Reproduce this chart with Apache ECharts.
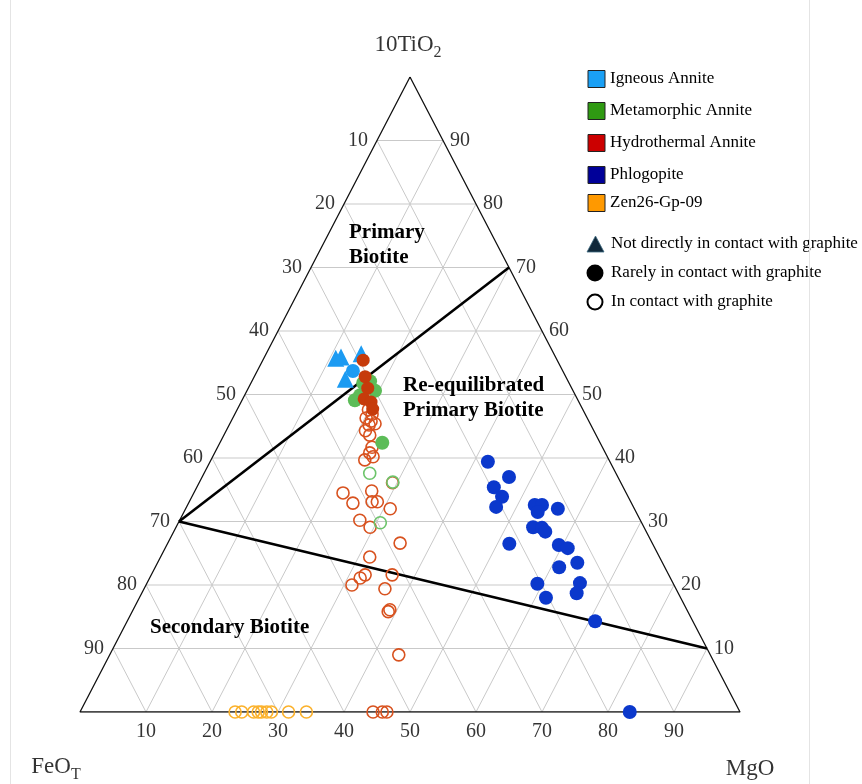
<!DOCTYPE html>
<html>
<head>
<meta charset="utf-8">
<script src="https://cdn.jsdelivr.net/npm/echarts@6/dist/echarts.min.js"></script>
<style>
  html, body { margin: 0; padding: 0; background: #fff; }
  #chart { width: 862px; height: 784px; }
</style>
</head>
<body>
<div id="chart"></div>
<script>
// Biotite compositions as [10TiO2, FeOT, MgO] (normalised to 100 on the diagram)
const tickValues = [10, 20, 30, 40, 50, 60, 70, 80, 90];

const igneousNotInContact = [[55.7, 33.4, 10.9], [55.9, 32.5, 11.6], [56.4, 29.2, 14.4], [52.4, 33.6, 14.0]];
const igneousRarely = [[53.7, 31.8, 14.5]];

const metamorphicRarely = [[51.8, 31.2, 17.0], [52.1, 30.0, 17.9], [50.6, 30.0, 19.4], [49.1, 33.8, 17.1],
  [49.9, 32.6, 17.5], [42.4, 33.0, 24.6]];
const metamorphicContact = [[37.6, 37.3, 25.1], [36.2, 34.5, 29.3], [29.8, 39.6, 30.6]];

const hydrothermalRarely = [[55.4, 29.4, 15.2], [52.8, 30.4, 16.8], [51.0, 30.9, 18.1], [49.3, 32.3, 18.4],
  [48.8, 31.5, 19.7], [47.7, 31.8, 20.5]];
const hydrothermalContact = [[47.6, 32.5, 19.9], [46.9, 32.3, 20.8], [46.3, 33.5, 20.2], [45.8, 33.0, 21.2],
  [45.2, 33.6, 21.2], [45.4, 32.6, 22.0], [44.3, 34.6, 21.1], [43.6, 34.3, 22.1], [41.7, 34.9, 23.4],
  [40.8, 35.7, 23.5], [39.7, 37.0, 23.3], [40.2, 35.5, 24.3], [36.1, 34.6, 29.3], [34.5, 42.9, 22.6],
  [32.9, 42.2, 24.9], [34.8, 38.4, 26.8], [33.1, 39.2, 27.7], [33.1, 38.4, 28.5], [32.0, 37.0, 31.0],
  [30.2, 42.5, 27.3], [29.1, 41.5, 29.4], [26.6, 38.2, 35.2], [24.4, 43.9, 31.7], [20.0, 48.8, 31.2],
  [21.1, 47.0, 31.9], [21.6, 46.0, 32.4], [21.6, 41.9, 36.5], [19.4, 44.1, 36.5], [15.8, 45.4, 38.8],
  [16.1, 45.0, 38.9], [9.0, 47.2, 43.8], [0, 55.6, 44.4], [0, 54.2, 45.8], [0, 53.5, 46.5]];

const phlogopiteRarely = [[39.4, 18.5, 42.1], [37.0, 16.5, 46.5], [35.4, 19.6, 45.0], [33.9, 19.1, 47.0],
  [32.3, 20.8, 46.9], [32.6, 14.8, 52.6], [32.6, 13.7, 53.7], [31.5, 14.9, 53.6], [32.0, 11.6, 56.4],
  [29.1, 16.8, 54.1], [29.0, 15.5, 55.5], [28.4, 15.3, 56.3], [26.5, 21.7, 51.8], [26.3, 14.3, 59.4],
  [25.8, 13.2, 61.0], [23.5, 12.9, 63.6], [22.8, 16.0, 61.2], [20.2, 20.6, 59.2], [20.3, 14.1, 65.6],
  [18.7, 15.4, 65.9], [18.0, 20.4, 61.6], [14.3, 14.8, 70.9], [0, 16.7, 83.3]];

const zenContact = [[0, 76.5, 23.5], [0, 75.5, 24.5], [0, 73.7, 26.3], [0, 73.0, 27.0], [0, 72.5, 27.5],
  [0, 71.7, 28.3], [0, 71.0, 29.0], [0, 68.4, 31.6], [0, 65.7, 34.3]];

// Field boundaries between primary / re-equilibrated / secondary biotite
const fieldBoundaries = [[[30, 70, 0], [70, 0, 30]], [[30, 70, 0], [10, 0, 90]]];

const SERIF = '"Liberation Serif", "Times New Roman", Times, serif';

// Ternary -> cartesian (x: MgO + TiO2/2, y: TiO2), both in percent
function toXY(p) {
  const s = p[0] + p[1] + p[2];
  const t = p[0] / s * 100, m = p[2] / s * 100;
  return [m + t / 2, t];
}

function lineSeries(points, color, width, z) {
  return {
    type: 'line', data: points.map(toXY), symbol: 'none', silent: true, z: z,
    lineStyle: { color: color, width: width }, animation: false
  };
}

const series = [];

// Triangular grid, one family of lines per component
tickValues.forEach(k => {
  series.push(lineSeries([[k, 100 - k, 0], [k, 0, 100 - k]], '#c9c9c9', 1, 1));
  series.push(lineSeries([[0, 100 - k, k], [100 - k, 0, k]], '#c9c9c9', 1, 1));
  series.push(lineSeries([[0, k, 100 - k], [100 - k, k, 0]], '#c9c9c9', 1, 1));
});

// Triangle outline
series.push(lineSeries([[100, 0, 0], [0, 100, 0], [0, 0, 100], [100, 0, 0]], '#111', 1.3, 2));

// Field boundaries
fieldBoundaries.forEach(b => series.push(lineSeries(b, '#000', 2.6, 3)));

// Edge tick labels
function labelSeries(points, texts, position, distance) {
  return {
    type: 'scatter', silent: true, symbolSize: 0, z: 4, animation: false,
    data: points.map((p, i) => ({ value: toXY(p), name: texts[i] })),
    label: {
      show: true, position: position, distance: distance, formatter: q => q.name,
      fontFamily: SERIF, fontSize: 20, color: '#000'
    }
  };
}
series.push(labelSeries(tickValues.map(k => [100 - k, k, 0]), tickValues.map(String), 'left', 9));
series.push(labelSeries(tickValues.map(k => [k, 0, 100 - k]), tickValues.map(String), 'right', 7));
series.push(labelSeries(tickValues.map(k => [0, 100 - k, k]), tickValues.map(String), 'bottom', 10));

// Apex labels
series.push({
  type: 'scatter', silent: true, symbolSize: 0, z: 4, animation: false,
  data: [
    { value: toXY([100, 0, 0]), name: '{m|10TiO}{s|2}', label: { offset: [-2, -30] } },
    { value: toXY([0, 100, 0]), name: '{m|FeO}{s|T}', label: { offset: [-24, 57] } },
    { value: toXY([0, 0, 100]), name: '{m|MgO}', label: { offset: [10, 57] } }
  ],
  label: {
    show: true, position: 'inside', formatter: q => q.name, color: '#000',
    rich: {
      m: { fontFamily: SERIF, fontSize: 23, color: '#000', verticalAlign: 'top', height: 24 },
      s: { fontFamily: SERIF, fontSize: 16, color: '#000', verticalAlign: 'top', padding: [12, 0, 0, 0] }
    }
  }
});

function scatter(data, opts) {
  return Object.assign({
    type: 'scatter', data: data.map(toXY), animation: false, z: 5
  }, opts);
}
const hollow = c => ({ color: 'rgba(255,255,255,0)', borderColor: c, borderWidth: 1.6, opacity: 1 });
const solid = c => ({ color: c, opacity: 1 });

series.push(scatter(zenContact, { symbol: 'circle', symbolSize: 12, itemStyle: hollow('#fbb12b') }));
series.push(scatter(hydrothermalContact, { symbol: 'circle', symbolSize: 12, itemStyle: hollow('#d8521f') }));
series.push(scatter(metamorphicContact, { symbol: 'circle', symbolSize: 12, itemStyle: hollow('#6cc46a') }));
series.push(scatter(phlogopiteRarely, { symbol: 'circle', symbolSize: 14, itemStyle: solid('#0b38cc') }));
series.push(scatter(igneousNotInContact, { symbol: 'triangle', symbolSize: 17, itemStyle: solid('#1c9bf2') }));
series.push(scatter(igneousRarely, { symbol: 'circle', symbolSize: 14, itemStyle: solid('#1c9bf2') }));
series.push(scatter(metamorphicRarely, { symbol: 'circle', symbolSize: 14, itemStyle: solid('#5cbc58') }));
series.push(scatter(hydrothermalRarely, { symbol: 'circle', symbolSize: 13, itemStyle: solid('#c63b0b') }));

// Legend
const legendColors = [
  ['Igneous Annite', '#1aa0f5'],
  ['Metamorphic Annite', '#2f9a12'],
  ['Hydrothermal Annite', '#cc0000'],
  ['Phlogopite', '#000099'],
  ['Zen26-Gp-09', '#ff9900']
];
const legendRows = [79, 111, 143, 175, 203];
const graphic = [];
legendColors.forEach((it, i) => {
  graphic.push({ type: 'rect', shape: { x: 588, y: legendRows[i] - 8.5, width: 17, height: 17 },
    style: { fill: it[1], stroke: '#222', lineWidth: 1 } });
  graphic.push({ type: 'text', x: 610, y: legendRows[i],
    style: { text: it[0], font: '17px ' + SERIF, fill: '#000', verticalAlign: 'middle' } });
});
graphic.push({ type: 'polygon', shape: { points: [[595.5, 236], [604, 252], [587, 252]] },
  style: { fill: '#10283a', stroke: '#3d6a80', lineWidth: 0.8 } });
graphic.push({ type: 'circle', shape: { cx: 595, cy: 273, r: 8.5 }, style: { fill: '#000' } });
graphic.push({ type: 'circle', shape: { cx: 595, cy: 302, r: 7.5 }, style: { fill: '#fff', stroke: '#000', lineWidth: 2 } });
[['Not directly in contact with graphite', 244], ['Rarely in contact with graphite', 273],
 ['In contact with graphite', 302]].forEach(r => {
  graphic.push({ type: 'text', x: 611, y: r[1],
    style: { text: r[0], font: '17px ' + SERIF, fill: '#000', verticalAlign: 'middle' } });
});

// Field names
[['Primary', 349, 233], ['Biotite', 349, 258], ['Re-equilibrated', 403, 386],
 ['Primary Biotite', 403, 411], ['Secondary Biotite', 150, 628]].forEach(r => {
  graphic.push({ type: 'text', x: r[1], y: r[2], z: 10,
    style: { text: r[0], font: 'bold 21px ' + SERIF, fill: '#000', verticalAlign: 'middle' } });
});

// Faint frame lines at the sides
graphic.push({ type: 'line', shape: { x1: 10.5, y1: 0, x2: 10.5, y2: 784 }, style: { stroke: '#e4e4e4', lineWidth: 1 } });
graphic.push({ type: 'line', shape: { x1: 809.5, y1: 0, x2: 809.5, y2: 784 }, style: { stroke: '#e4e4e4', lineWidth: 1 } });

const chart = echarts.init(document.getElementById('chart'), null, { renderer: 'canvas' });
chart.setOption({
  backgroundColor: '#fff',
  animation: false,
  grid: { left: 80, right: 122, top: 77, bottom: 72, containLabel: false },
  xAxis: { type: 'value', min: 0, max: 100, show: false },
  yAxis: { type: 'value', min: 0, max: 100, show: false },
  series: series,
  graphic: graphic
});
</script>
</body>
</html>
